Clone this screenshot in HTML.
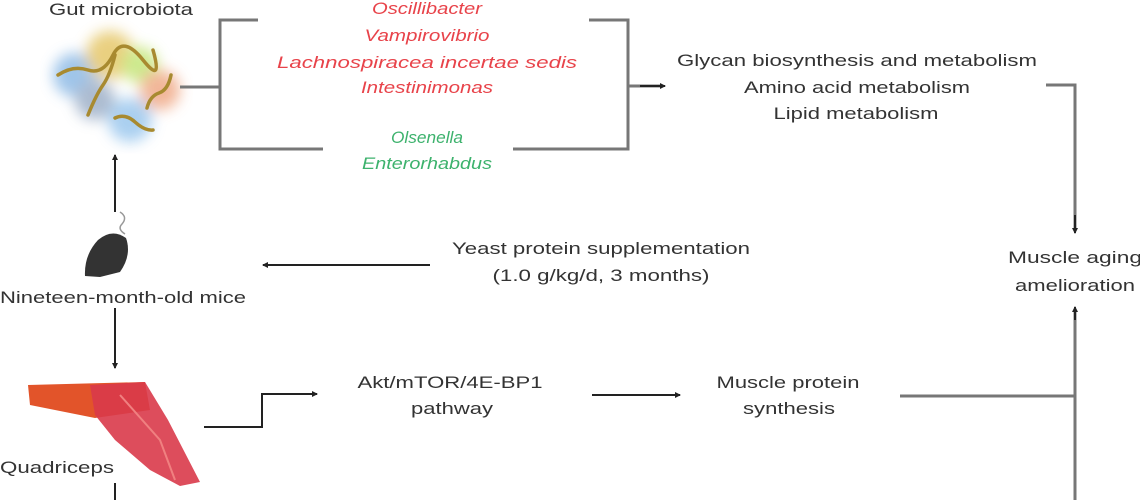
<!DOCTYPE html>
<html><head><style>
body{margin:0;background:#fff;}
svg{display:block;font-family:"Liberation Sans",sans-serif;}
</style></head><body>
<svg width="1140" height="500" viewBox="0 0 1140 500">
<defs>
<marker id="a" markerWidth="6" markerHeight="6" refX="5" refY="3" orient="auto" markerUnits="userSpaceOnUse"><path d="M0,0 L6,3 L0,6z" fill="#222"/></marker>
<filter id="b"><feGaussianBlur stdDeviation="7"/></filter>
</defs>
<g font-size="17" text-anchor="middle" lengthAdjust="spacingAndGlyphs">
<text x="121" y="15" fill="#333" textLength="144" lengthAdjust="spacingAndGlyphs">Gut microbiota</text>
<g fill="#e8434a" font-style="italic">
<text x="427" y="14" textLength="110" lengthAdjust="spacingAndGlyphs">Oscillibacter</text>
<text x="427" y="41" textLength="125" lengthAdjust="spacingAndGlyphs">Vampirovibrio</text>
<text x="427" y="68" textLength="300" lengthAdjust="spacingAndGlyphs">Lachnospiracea incertae sedis</text>
<text x="427" y="93" textLength="132" lengthAdjust="spacingAndGlyphs">Intestinimonas</text>
</g>
<g fill="#3db26d" font-style="italic">
<text x="427" y="143" textLength="72" lengthAdjust="spacingAndGlyphs">Olsenella</text>
<text x="427" y="169" textLength="130" lengthAdjust="spacingAndGlyphs">Enterorhabdus</text>
</g>
<g fill="#333">
<text x="857" y="66" textLength="360" lengthAdjust="spacingAndGlyphs">Glycan biosynthesis and metabolism</text>
<text x="857" y="93" textLength="226" lengthAdjust="spacingAndGlyphs">Amino acid metabolism</text>
<text x="856" y="119" textLength="165" lengthAdjust="spacingAndGlyphs">Lipid metabolism</text>
<text x="1075" y="263" textLength="134" lengthAdjust="spacingAndGlyphs">Muscle aging</text>
<text x="1075" y="291" textLength="120" lengthAdjust="spacingAndGlyphs">amelioration</text>
<text x="601" y="254" textLength="298" lengthAdjust="spacingAndGlyphs">Yeast protein supplementation</text>
<text x="601" y="281" textLength="217" lengthAdjust="spacingAndGlyphs">(1.0 g/kg/d, 3 months)</text>
<text x="123" y="303" textLength="246" lengthAdjust="spacingAndGlyphs">Nineteen-month-old mice</text>
<text x="450" y="388" textLength="185" lengthAdjust="spacingAndGlyphs">Akt/mTOR/4E-BP1</text>
<text x="452" y="414" textLength="82" lengthAdjust="spacingAndGlyphs">pathway</text>
<text x="788" y="388" textLength="143" lengthAdjust="spacingAndGlyphs">Muscle protein</text>
<text x="789" y="414" textLength="92" lengthAdjust="spacingAndGlyphs">synthesis</text>
<text x="57" y="473" textLength="114" lengthAdjust="spacingAndGlyphs">Quadriceps</text>
</g>
</g>
<!-- microbiota blob -->
<g filter="url(#b)" opacity="0.85">
<circle cx="75" cy="75" r="22" fill="#8fbbe6"/>
<circle cx="110" cy="55" r="24" fill="#e6c86a"/>
<circle cx="140" cy="65" r="18" fill="#c4e67a"/>
<circle cx="160" cy="90" r="20" fill="#f0aa88"/>
<circle cx="95" cy="100" r="20" fill="#9fb0c8"/>
<circle cx="130" cy="120" r="22" fill="#9cc8ee"/>
</g>
<g stroke="#a88a30" stroke-width="3.5" fill="none" stroke-linecap="round">
<path d="M58,75 q15,-10 30,-5 t25,-15 t30,5 t10,-10"/>
<path d="M88,115 q8,-20 15,-30 t12,-30"/>
<path d="M147,108 q3,-12 12,-15 t12,-18"/>
<path d="M115,118 q10,-5 20,4 t18,8"/>
</g>
<!-- mouse -->
<path d="M120,212 q8,5 2,12 q-5,5 3,10" stroke="#999" stroke-width="1.5" fill="none"/>
<path d="M85,276 Q84,255 98,240 Q112,228 126,238 Q132,255 120,272 L100,277 Z" fill="#333"/>
<!-- muscle -->
<path d="M28,385 L145,382 L150,410 L95,418 L30,405 Z" fill="#e2542a"/>
<path d="M90,385 L145,382 L168,420 L200,482 L180,486 L150,470 L115,440 L95,415 Z" fill="#d93a4a" opacity="0.9"/>
<path d="M120,395 L160,440 L175,480" stroke="#f08080" stroke-width="2" fill="none"/>
<g stroke="#777" stroke-width="3" fill="none">
<path d="M180,87 H220 M258,20 H220 V149 H323"/>
<path d="M589,20 H628 V149 H513"/>
<path d="M628,86 H660"/>
<path d="M1046,85 H1075 V228"/>
<path d="M900,396 H1075"/>
<path d="M1075,310 V500"/>
</g>
<g stroke="#222" stroke-width="2" fill="none">
<path d="M640,86 H665" marker-end="url(#a)"/>
<path d="M1075,215 V233" marker-end="url(#a)"/>
<path d="M1075,320 V307" marker-end="url(#a)"/>
<path d="M430,265 H263" marker-end="url(#a)"/>
<path d="M115,308 V368" marker-end="url(#a)"/>
<path d="M115,212 V155" marker-end="url(#a)"/>
<path d="M204,427 H262 V394 H317" marker-end="url(#a)"/>
<path d="M592,395 H680" marker-end="url(#a)"/>
<path d="M115,483 V500"/>
</g>
</svg>
</body></html>
